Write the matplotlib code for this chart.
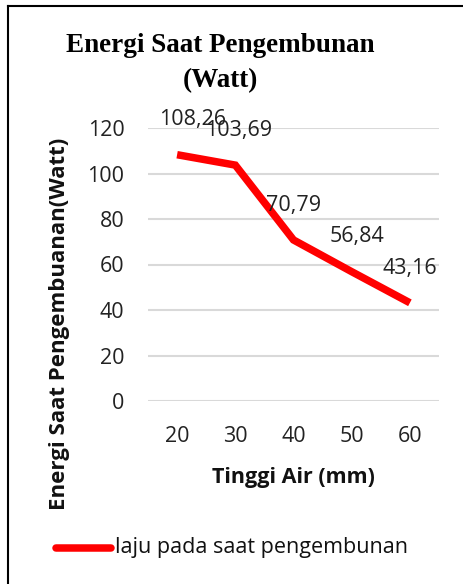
import numpy as np
import matplotlib.pyplot as plt
from matplotlib.lines import Line2D

tinggi = ["20", "30", "40", "50", "60"]
energi = [108.26, 103.69, 70.79, 56.84, 43.16]
label_text = ["108,26", "103,69", "70,79", "56,84", "43,16"]
yticks = [0, 20, 40, 60, 80, 100, 120]

plt.rcParams['font.family'] = ['Open Sans', 'DejaVu Sans']

fig = plt.figure(figsize=(4.64, 5.84), dpi=100)
ax = fig.add_axes([148/464, 1-401/584, 291/464, 273/584])

x = np.arange(len(tinggi))
ax.plot(x, energi, color='#ff0000', lw=5.4, solid_capstyle='butt', solid_joinstyle='miter', zorder=3)

# data labels (Excel style, above the point)
dx = [15, 3, 0, 5, 0]
for xi, yi, t, d in zip(x, energi, label_text, dx):
    ax.annotate(t, (xi, yi), xytext=(d * 0.72, 25), textcoords='offset points',
                ha='center', va='center', fontsize=15.5, color='#222222', zorder=4)

ax.set_xlim(-0.5, len(tinggi) - 0.5)
ax.set_ylim(0, 120)
ax.set_xticks(x)
ax.set_xticklabels(tinggi)
ax.set_yticks(yticks)
ax.grid(axis='y', color='#d9d9d9', lw=1.5)
ax.set_axisbelow(True)
for s in ax.spines.values():
    s.set_visible(False)
ax.tick_params(length=0, labelsize=15.5, colors='#222222')
ax.tick_params(axis='y', pad=17)
ax.tick_params(axis='x', pad=18)

fig.text(293/464, 1-477/584, "Tinggi Air (mm)", ha='center', va='center',
         fontsize=15.5, fontweight='bold', color='#111111')
fig.text(60/464, 1-324/584, "Energi Saat Pengembuanan(Watt)", ha='center', va='center',
         rotation=90, fontsize=16, fontweight='bold', color='#111111')
fig.text(220/464, 1-45/584, "Energi Saat Pengembunan", ha='center', va='center',
         fontsize=19.5, fontweight='bold', family='Liberation Serif')
fig.text(220/464, 1-81/584, "(Watt)", ha='center', va='center',
         fontsize=19.5, fontweight='bold', family='Liberation Serif')

# legend
fig.add_artist(Line2D([56/464, 111/464], [1-548/584, 1-548/584], color='#ff0000',
                      lw=5.4, solid_capstyle='round'))
fig.text(115/464, 1-548/584, "laju pada saat pengembunan", ha='left', va='center',
         fontsize=15.5, color='#111111')

# chart border (top and left visible)
fig.add_artist(Line2D([8/464, 1.0], [1-5.5/584, 1-5.5/584], color='black', lw=1.5))
fig.add_artist(Line2D([8/464, 8/464], [0, 1-5.5/584], color='black', lw=1.5))

fig.savefig("out.png", dpi=100)
